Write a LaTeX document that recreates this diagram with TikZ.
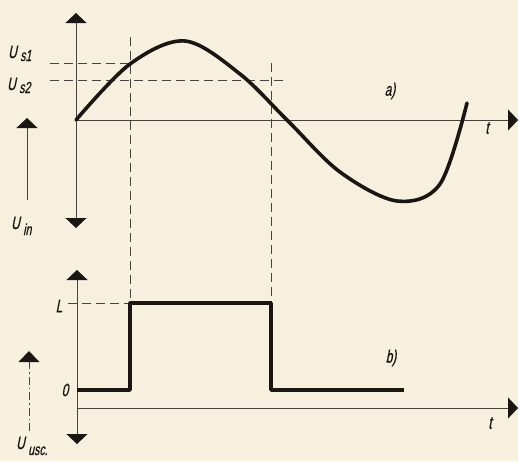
\documentclass[tikz,border=0pt]{standalone}
\usepackage{fontspec}
\usetikzlibrary{arrows.meta}
\newfontfamily\labfont[FakeStretch=0.66,FakeSlant=0.2,FakeBold=0.8]{Liberation Sans}
\definecolor{paper}{RGB}{247,240,222}
\definecolor{ink}{RGB}{25,22,20}
\definecolor{thin}{RGB}{70,66,60}
\begin{document}
\begin{tikzpicture}[x=1pt,y=-1pt,
  tri/.tip={Triangle[width=21pt,length=10pt,fill=ink,color=ink]},
  axis/.style={draw=thin,line width=0.9pt},
  tipped/.style={-tri},
  bothtip/.style={tri-tri},
  guide/.style={draw=thin,line width=0.8pt,dash pattern=on 9pt off 5pt},
  signal/.style={draw=ink,line width=3.6pt,line join=round},
  lab/.style={font=\labfont\fontsize{18}{18}\selectfont,text=ink,inner sep=0pt},
  sub/.style={font=\labfont\fontsize{16}{16}\selectfont,text=ink,inner sep=0pt,anchor=base west}]
\fill[paper] (0,0) rectangle (518,461);
\useasboundingbox (0,0) rectangle (518,461);
% ---- coordinates
\coordinate (aTop) at (76,13);
\coordinate (aBot) at (76,228);
\coordinate (aO) at (76,120);
\coordinate (aEnd) at (518,120);
\coordinate (bTop) at (77,270);
\coordinate (bBot) at (77,444);
\coordinate (bO) at (77,408);
\coordinate (bEnd) at (518,408);
% ---- top axes
\draw[axis,bothtip] (aTop) -- (aBot);
\draw[axis,tipped] (aO) -- (aEnd);
% ---- guide lines
\coordinate (us1a) at (50,63);
\coordinate (us1b) at (130,63);
\coordinate (us2a) at (50,80);
\coordinate (us2b) at (286,80);
\draw[guide] (us1a) -- (us1b);
\draw[guide] (us2a) -- (us2b);
\coordinate (v1t) at (130,37);
\coordinate (v1b) at (130,303);
\coordinate (v2t) at (271,63);
\coordinate (v2b) at (271,303);
\draw[guide] (v1t) -- (v1b);
\draw[guide] (v2t) -- (v2b);
\coordinate (La) at (68,303);
\draw[guide] (La) -- (v1b);
% ---- sine-like curve
\draw[signal,line cap=round] plot[smooth,tension=0.55] coordinates
  {(76,120) (130,64) (185,41) (240,74) (288,121) (340,172) (397,201) (440,184) (467,103)};
% ---- bottom axes
\draw[axis,bothtip] (bTop) -- (bBot);
\draw[axis,tipped] (bO) -- (bEnd);
% ---- pulse
\draw[signal] (77,390) -- (130,390) -- (130,303) -- (271,303) -- (271,390) -- (404,390);
% ---- side arrows
\coordinate (sa1t) at (27,118);
\coordinate (sa1b) at (27,200);
\draw[axis,tri-] (sa1t) -- (sa1b);
\coordinate (sa2t) at (29,351);
\coordinate (sa2m) at (29,361);
\coordinate (sa2b) at (29,433);
\draw[draw=thin,line width=0.8pt,dash pattern=on 8pt off 3pt on 1.5pt off 3pt] (sa2m) -- (sa2b);
\fill[ink] (sa2t) -- (18.5,362) -- (39.5,362) -- cycle;
% ---- labels
\node[lab,anchor=base west] (Us1) at (8,58) {U};
\node[sub] (Us1s) at ([xshift=3pt,yshift=-3pt]Us1.base east) {s1};
\node[lab,anchor=base west] (Us2) at (7,90) {U};
\node[sub] (Us2s) at ([xshift=3pt,yshift=-3pt]Us2.base east) {s2};
\node[lab,anchor=base west] (Uin) at (11,229) {U};
\node[sub] (Uins) at ([xshift=3pt,yshift=-6pt]Uin.base east) {in};
\node[lab,anchor=base west] (Uusc) at (16,449) {U};
\node[sub] (Uuscs) at ([xshift=3pt,yshift=-6pt]Uusc.base east) {usc.};
\node[lab] (ta) at (487,128) {t};
\node[lab] (la) at (390,91) {a)};
\node[lab] (tb) at (490,423) {t};
\node[lab] (lb) at (391,358) {b)};
\node[lab] (Ll) at (59,306) {L};
\node[lab] (Z) at (65,390) {0};
\end{tikzpicture}
\end{document}
